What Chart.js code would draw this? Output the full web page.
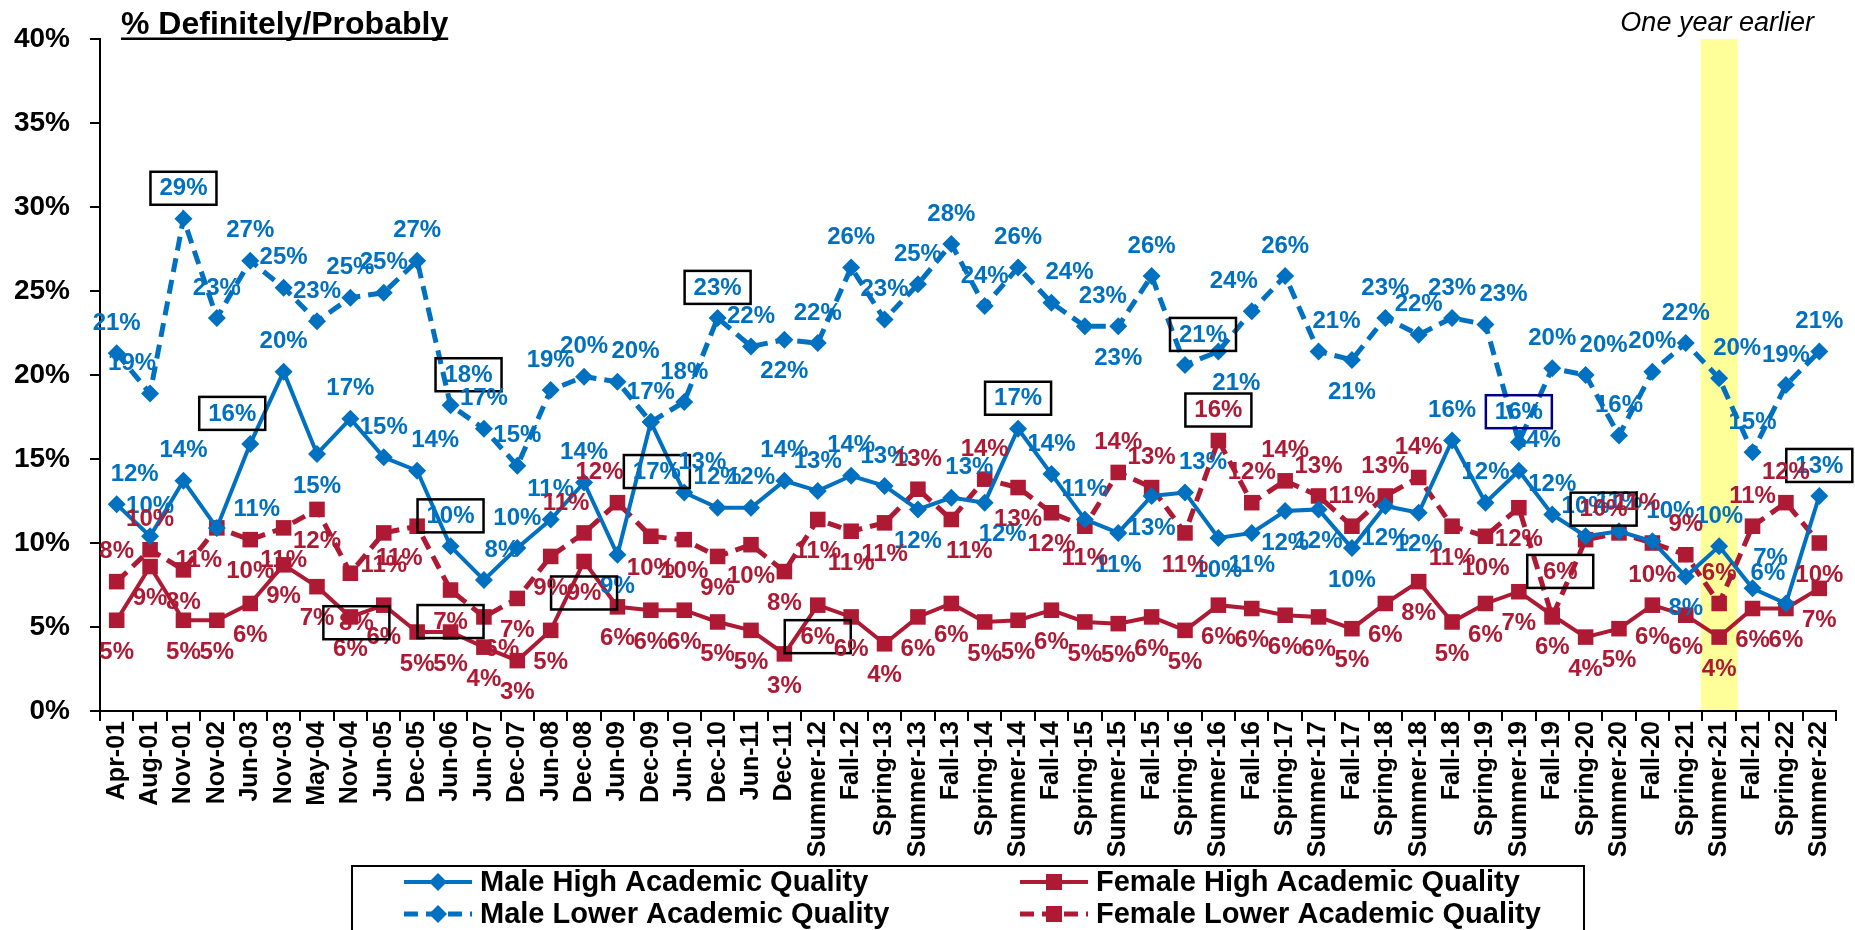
<!DOCTYPE html>
<html>
<head>
<meta charset="utf-8">
<script src="https://cdn.jsdelivr.net/npm/chart.js@4.4.0/dist/chart.umd.min.js"></script>
<style>
html, body { margin: 0; padding: 0; background: #fff; }
canvas { display: block; }
</style>
</head>
<body>
<canvas id="chart" width="1855" height="930"></canvas>
<script>
const categories = [
  'Apr-01', 'Aug-01', 'Nov-01', 'Nov-02', 'Jun-03', 'Nov-03', 'May-04', 'Nov-04', 'Jun-05', 'Dec-05',
  'Jun-06', 'Jun-07', 'Dec-07', 'Jun-08', 'Dec-08', 'Jun-09', 'Dec-09', 'Jun-10', 'Dec-10', 'Jun-11',
  'Dec-11', 'Summer-12', 'Fall-12', 'Spring-13', 'Summer-13', 'Fall-13', 'Spring-14', 'Summer-14', 'Fall-14', 'Spring-15',
  'Summer-15', 'Fall-15', 'Spring-16', 'Summer-16', 'Fall-16', 'Spring-17', 'Summer-17', 'Fall-17', 'Spring-18', 'Summer-18',
  'Fall-18', 'Spring-19', 'Summer-19', 'Fall-19', 'Spring-20', 'Summer-20', 'Fall-20', 'Spring-21', 'Summer-21', 'Fall-21',
  'Spring-22', 'Summer-22'
]

const maleHigh = [
  12.3, 10.4, 13.7, 10.9, 15.9, 20.2, 15.3, 17.4, 15.1, 14.3,
  9.8, 7.8, 9.7, 11.4, 13.6, 9.3, 17.2, 13.0, 12.1, 12.1,
  13.7, 13.1, 14.0, 13.4, 12.0, 12.7, 12.4, 16.8, 14.1, 11.4,
  10.6, 12.8, 13.0, 10.3, 10.6, 11.9, 12.0, 9.7, 12.2, 11.8,
  16.1, 12.4, 14.3, 11.7, 10.4, 10.7, 10.1, 8.0, 9.8, 7.3,
  6.4, 12.8
]
const femaleHigh = [
  5.4, 8.6, 5.4, 5.4, 6.4, 8.7, 7.4, 5.6, 6.3, 4.7,
  4.7, 3.8, 3.0, 4.8, 8.9, 6.2, 6.0, 6.0, 5.3, 4.8,
  3.4, 6.3, 5.6, 4.0, 5.6, 6.4, 5.3, 5.4, 6.0, 5.3,
  5.2, 5.6, 4.8, 6.3, 6.1, 5.7, 5.6, 4.9, 6.4, 7.7,
  5.3, 6.4, 7.1, 5.7, 4.4, 4.9, 6.3, 5.7, 4.4, 6.1,
  6.1, 7.3
]
const maleLower = [
  21.3, 18.9, 29.3, 23.4, 26.8, 25.2, 23.2, 24.6, 24.9, 26.8,
  18.2, 16.8, 14.6, 19.1, 19.9, 19.6, 17.2, 18.4, 23.4, 21.7,
  22.1, 21.9, 26.4, 23.3, 25.4, 27.8, 24.1, 26.4, 24.3, 22.9,
  22.9, 25.9, 20.6, 21.4, 23.8, 25.9, 21.4, 20.9, 23.4, 22.4,
  23.4, 23.0, 16.0, 20.4, 20.0, 16.4, 20.2, 21.9, 19.8, 15.4,
  19.4, 21.4
]
const femaleLower = [
  7.7, 9.6, 8.4, 10.9, 10.2, 10.9, 12.0, 8.2, 10.6, 11.0,
  7.2, 5.6, 6.7, 9.2, 10.6, 12.4, 10.4, 10.2, 9.2, 9.9,
  8.3, 11.4, 10.7, 11.2, 13.2, 11.4, 13.8, 13.3, 11.8, 11.0,
  14.2, 13.3, 10.6, 16.1, 12.4, 13.7, 12.8, 11.0, 12.8, 13.9,
  11.0, 10.4, 12.1, 5.6, 10.2, 10.6, 10.0, 9.3, 6.4, 11.0,
  12.4, 10.0
]
const yTicks = [0, 5, 10, 15, 20, 25, 30, 35, 40]
const highlightCategory = 'Summer-21'

// label placement codes: a above, b below, A above-right, L above-left,
// B below-right, M below-left, r right, D far below, U far above
const OFFSETS = {
  a: [0, -31], b: [0, 31], A: [18, -31], L: [-18, -31],
  B: [18, 31], M: [-18, 31], r: [40, -20], D: [6, 49], U: [8, -46]
}
const maleHighPos = 'AaarLabaaA' + 'aAaaabDAaa' + 'aaaabABaaa' + 'bbAbbbbbbb' + 'aaAaaaAbaA' + 'La'
const femaleHighPos = 'b'.repeat(52)
const maleLowerPos = 'aLaaaaaaaa' + 'AaaaaAaaaa' + 'baaaaaaaAA' + 'baABLaAbaa' + 'aAaaAaaaAa' + 'aa'
const femaleLowerPos = 'aabMbbbDbM' + 'bBbbLLbbbb' + 'bbbbaBabbb' + 'aabaaaaaaa' + 'bbbUAAbaaa' + 'ab'

const maleHighBoxes = [4, 10, 16, 27, 51]
const femaleHighBoxes = [14, 21]
const maleLowerBoxes = [2, 10, 18, 32, 42]
const femaleLowerBoxes = [7, 10, 33, 43, 44]

const BLUE = '#0070C0'
const RED = '#AE1A34'
const FONT = '"Liberation Sans", Arial, sans-serif'

const highlight = {
  id: 'highlight',
  beforeDraw (chart) {
    const { ctx, chartArea } = chart
    const x = chart.scales.x.getPixelForValue(categories.indexOf(highlightCategory))
    ctx.save()
    ctx.fillStyle = '#FFFF99'
    ctx.fillRect(x - 18.5, chartArea.top, 37, chartArea.bottom - chartArea.top)
    ctx.restore()
  }
}

const pointLabels = {
  id: 'pointLabels',
  afterDatasetsDraw (chart) {
    const ctx = chart.ctx
    ctx.save()
    ctx.font = 'bold 24px ' + FONT
    ctx.textAlign = 'center'
    ctx.textBaseline = 'middle'
    chart.data.datasets.forEach((ds, di) => {
      const meta = chart.getDatasetMeta(di)
      meta.data.forEach((pt, i) => {
        const off = OFFSETS[ds.labelPos[i]]
        const x = pt.x + off[0]
        const y = pt.y + off[1]
        ctx.fillStyle = ds.borderColor
        ctx.fillText(Math.round(ds.data[i]) + '%', x, y + 1)
        if (ds.boxes.includes(i)) {
          ctx.lineWidth = 2.5
          ctx.strokeStyle = (di === 2 && i === 42) ? '#000080' : '#000'
          ctx.strokeRect(x - 33, y - 16, 66, 33)
        }
      })
    })
    ctx.restore()
  }
}

function marker (ctx, style, x, y, color) {
  ctx.fillStyle = color
  ctx.beginPath()
  if (style === 'rectRot') {
    ctx.moveTo(x, y - 9); ctx.lineTo(x + 9, y); ctx.lineTo(x, y + 9); ctx.lineTo(x - 9, y)
  } else {
    ctx.rect(x - 8, y - 8, 16, 16)
  }
  ctx.closePath()
  ctx.fill()
}

const decorations = {
  id: 'decorations',
  afterDraw (chart) {
    const ctx = chart.ctx
    ctx.save()
    // title
    ctx.fillStyle = '#000'
    ctx.font = 'bold 32px ' + FONT
    ctx.textAlign = 'left'
    ctx.textBaseline = 'alphabetic'
    const title = '% Definitely/Probably'
    ctx.fillText(title, 121, 34)
    const w = ctx.measureText(title).width
    ctx.fillRect(121, 37.5, w, 2.5)
    // note above the highlight
    ctx.font = 'italic 27px ' + FONT
    ctx.textAlign = 'center'
    const hx = chart.scales.x.getPixelForValue(categories.indexOf(highlightCategory))
    ctx.fillText('One year earlier', hx - 2, 31)
    // legend
    ctx.lineWidth = 2
    ctx.strokeStyle = '#000'
    ctx.strokeRect(352, 866, 1232, 80)
    const cols = [438, 1054]
    const rows = [882, 914]
    ctx.font = 'bold 29px ' + FONT
    ctx.textAlign = 'left'
    ctx.textBaseline = 'middle'
    chart.data.datasets.forEach((ds, di) => {
      const cx = cols[di % 2]
      const cy = rows[Math.floor(di / 2)]
      ctx.strokeStyle = ds.borderColor
      ctx.lineWidth = ds.borderWidth
      ctx.setLineDash(ds.borderDash || [])
      ctx.beginPath()
      ctx.moveTo(cx - 34, cy)
      ctx.lineTo(cx + 34, cy)
      ctx.stroke()
      ctx.setLineDash([])
      marker(ctx, ds.pointStyle, cx, cy, ds.borderColor)
      ctx.fillStyle = '#000'
      ctx.fillText(ds.label, cx + 42, cy + 1)
    })
    ctx.restore()
  }
}

function series (label, data, color, style, dashed, pos, boxes) {
  return {
    label,
    data,
    borderColor: color,
    backgroundColor: color,
    pointBackgroundColor: color,
    pointBorderColor: color,
    borderWidth: dashed ? 5 : 4,
    borderDash: dashed ? [14, 8] : [],
    pointStyle: style,
    pointRadius: style === 'rect' ? 11 : 9,
    pointBorderWidth: 0,
    tension: 0,
    labelPos: pos,
    boxes
  }
}

new Chart(document.getElementById('chart'), {
  type: 'line',
  data: {
    labels: categories,
    datasets: [
      series('Male High Academic Quality', maleHigh, BLUE, 'rectRot', false, maleHighPos, maleHighBoxes),
      series('Female High Academic Quality', femaleHigh, RED, 'rect', false, femaleHighPos, femaleHighBoxes),
      series('Male Lower Academic Quality', maleLower, BLUE, 'rectRot', true, maleLowerPos, maleLowerBoxes),
      series('Female Lower Academic Quality', femaleLower, RED, 'rect', true, femaleLowerPos, femaleLowerBoxes)
    ]
  },
  options: {
    responsive: false,
    animation: false,
    devicePixelRatio: 1,
    layout: { padding: { top: 39, right: 19, bottom: 69, left: 0 } },
    plugins: {
      legend: { display: false },
      tooltip: { enabled: false }
    },
    scales: {
      x: {
        offset: true,
        grid: { display: true, drawOnChartArea: false, offset: true, color: '#000', tickLength: 10, lineWidth: 2 },
        border: { display: true, color: '#000', width: 2 },
        ticks: {
          autoSkip: false,
          minRotation: 90,
          maxRotation: 90,
          padding: 0,
          color: '#000',
          font: { family: FONT, size: 25, weight: 'bold' }
        },
        afterFit (scale) { scale.height = 150 }
      },
      y: {
        min: yTicks[0],
        max: yTicks[yTicks.length - 1],
        afterBuildTicks (scale) { scale.ticks = yTicks.map(v => ({ value: v })) },
        grid: { display: true, drawOnChartArea: false, color: '#000', tickLength: 10, lineWidth: 2 },
        border: { display: true, color: '#000', width: 2 },
        ticks: {
          padding: 20,
          color: '#000',
          font: { family: FONT, size: 28, weight: 'bold' },
          callback: v => v + '%'
        },
        afterFit (scale) { scale.width = 100 }
      }
    }
  },
  plugins: [highlight, pointLabels, decorations]
})
</script>
</body>
</html>
